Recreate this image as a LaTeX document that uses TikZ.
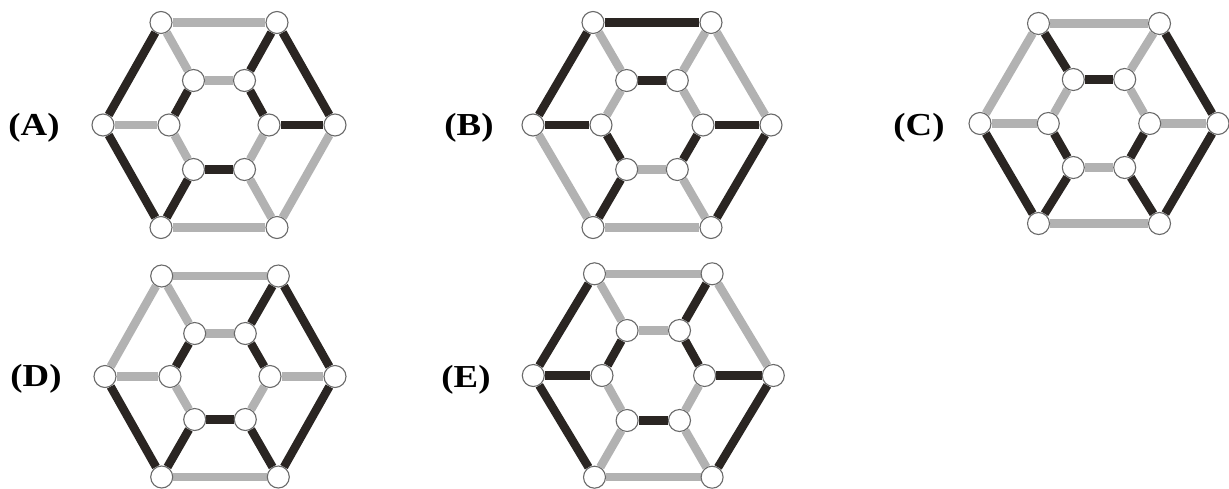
\documentclass[tikz,border=0pt]{standalone}
\usepackage{fontspec}
\setmainfont{Liberation Serif}
\usetikzlibrary{backgrounds}
\definecolor{dk}{HTML}{2A2522}
\definecolor{lt}{HTML}{B2B2B2}
\definecolor{rim}{HTML}{6A6A6A}
\newcommand\hexg[9]{%
  \node[vtx] (#1o1) at ({#2-#5},{#3-#6}) {};
  \node[vtx] (#1o2) at ({#2+#5},{#3-#6}) {};
  \node[vtx] (#1o3) at ({#2+#4},{#3}) {};
  \node[vtx] (#1o4) at ({#2+#5},{#3+#6}) {};
  \node[vtx] (#1o5) at ({#2-#5},{#3+#6}) {};
  \node[vtx] (#1o6) at ({#2-#4},{#3}) {};
  \node[vtx] (#1i1) at ({#2-#8},{#3-#9}) {};
  \node[vtx] (#1i2) at ({#2+#8},{#3-#9}) {};
  \node[vtx] (#1i3) at ({#2+#7},{#3}) {};
  \node[vtx] (#1i4) at ({#2+#8},{#3+#9}) {};
  \node[vtx] (#1i5) at ({#2-#8},{#3+#9}) {};
  \node[vtx] (#1i6) at ({#2-#7},{#3}) {};
}
\newcommand\hexedges[2]{%
  \begin{pgfonlayer}{background}
  \foreach \u/\v/\s in {#2} {\draw[edge, draw=\s] (#1\u) -- (#1\v);}
  \end{pgfonlayer}
}
\newcommand\labtxt[1]{\scalebox{1.15}[1]{#1}}
\begin{document}
\begin{tikzpicture}[x=1pt,y=-1pt,
  vtx/.style={circle, minimum size=22pt, inner sep=0pt, fill=white, draw=rim, line width=1.1pt},
  edge/.style={line width=8.5pt},
  lab/.style={font=\bfseries\fontsize{32}{34}\selectfont, inner sep=0pt}]
\useasboundingbox (0,0) rectangle (1229,488);
% labels
\node[lab] (labA) at (34,128) {\labtxt{(A)}};
\node[lab] (labB) at (469,128) {\labtxt{(B)}};
\node[lab] (labC) at (919,128) {\labtxt{(C)}};
\node[lab] (labD) at (36,379) {\labtxt{(D)}};
\node[lab] (labE) at (466,380) {\labtxt{(E)}};
% graphs
\hexg{A}{219}{125}{116}{58}{102.5}{50}{25.5}{44.5}
\hexedges{A}{o1/o2/lt,o2/o3/dk,o3/o4/lt,o4/o5/lt,o5/o6/dk,o6/o1/dk,
  i1/i2/lt,i2/i3/dk,i3/i4/lt,i4/i5/dk,i5/i6/lt,i6/i1/dk,
  o1/i1/lt,o2/i2/dk,o3/i3/dk,o4/i4/lt,o5/i5/dk,o6/i6/lt}
\hexg{B}{652}{125}{119}{59}{102.5}{51}{25.3}{44.5}
\hexedges{B}{o1/o2/dk,o2/o3/lt,o3/o4/dk,o4/o5/lt,o5/o6/lt,o6/o1/dk,
  i1/i2/dk,i2/i3/lt,i3/i4/dk,i4/i5/lt,i5/i6/dk,i6/i1/lt,
  o1/i1/lt,o2/i2/lt,o3/i3/dk,o4/i4/lt,o5/i5/dk,o6/i6/dk}
\hexg{C}{1099}{123.5}{119}{60.5}{100}{50.7}{25.7}{44}
\hexedges{C}{o1/o2/lt,o2/o3/dk,o3/o4/dk,o4/o5/lt,o5/o6/dk,o6/o1/lt,
  i1/i2/dk,i2/i3/lt,i3/i4/dk,i4/i5/lt,i5/i6/dk,i6/i1/lt,
  o1/i1/dk,o2/i2/lt,o3/i3/lt,o4/i4/dk,o5/i5/dk,o6/i6/lt}
\hexg{D}{220}{376.5}{115}{58.3}{100.5}{50}{25.3}{43}
\hexedges{D}{o1/o2/lt,o2/o3/dk,o3/o4/dk,o4/o5/lt,o5/o6/dk,o6/o1/lt,
  i1/i2/lt,i2/i3/dk,i3/i4/lt,i4/i5/dk,i5/i6/lt,i6/i1/dk,
  o1/i1/lt,o2/i2/dk,o3/i3/lt,o4/i4/dk,o5/i5/dk,o6/i6/lt}
\hexg{E}{653.3}{375.5}{120}{58.8}{101.7}{51.3}{26.2}{45}
\hexedges{E}{o1/o2/lt,o2/o3/lt,o3/o4/dk,o4/o5/lt,o5/o6/dk,o6/o1/dk,
  i1/i2/lt,i2/i3/dk,i3/i4/lt,i4/i5/dk,i5/i6/lt,i6/i1/dk,
  o1/i1/lt,o2/i2/dk,o3/i3/dk,o4/i4/lt,o5/i5/lt,o6/i6/dk}
\end{tikzpicture}
\end{document}
